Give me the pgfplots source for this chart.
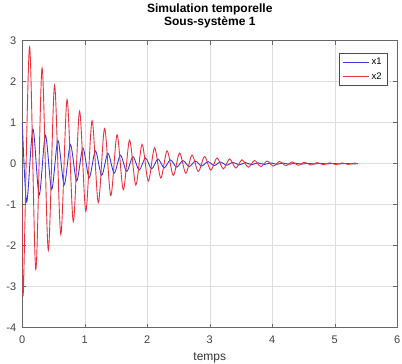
\documentclass[border=0pt]{standalone}
\usepackage{pgfplots}
\pgfplotsset{compat=1.18}
\usepackage{fontspec}
\setmainfont{Liberation Sans}
\definecolor{mred}{RGB}{232,50,60}
\definecolor{mblue}{RGB}{55,55,228}
\pgfplotstableread{
t x1
0 1
0.07 -0.932
0.17 0.844
0.27 -0.763
0.37 0.691
0.47 -0.625
0.57 0.566
0.67 -0.512
0.77 0.463
0.87 -0.419
0.97 0.379
1.07 -0.343
1.17 0.310
1.27 -0.281
1.37 0.254
1.47 -0.230
1.57 0.208
1.67 -0.188
1.77 0.170
1.87 -0.154
1.97 0.139
2.07 -0.126
2.17 0.114
2.27 -0.103
2.37 0.094
2.47 -0.085
2.57 0.077
2.67 -0.069
2.77 0.063
2.87 -0.057
2.97 0.051
3.07 -0.046
3.17 0.042
3.27 -0.038
3.37 0.034
3.47 -0.031
3.57 0.028
3.67 -0.026
3.77 0.023
3.87 -0.021
3.97 0.019
4.07 -0.017
4.17 0.016
4.27 -0.014
4.37 0.013
4.47 -0.011
4.57 0.010
4.67 -0.009
4.77 0.009
4.87 -0.008
4.97 0.007
5.07 -0.006
5.17 0.006
5.27 -0.005
5.37 0
}\xone
\pgfplotstableread{
t x2
0 -1
0.016 -3.149
0.116 2.850
0.216 -2.578
0.316 2.333
0.416 -2.111
0.516 1.910
0.616 -1.728
0.716 1.564
0.816 -1.415
0.916 1.280
1.016 -1.158
1.116 1.048
1.216 -0.949
1.316 0.858
1.416 -0.777
1.516 0.703
1.616 -0.636
1.716 0.575
1.816 -0.521
1.916 0.471
2.016 -0.426
2.116 0.386
2.216 -0.349
2.316 0.316
2.416 -0.286
2.516 0.259
2.616 -0.234
2.716 0.212
2.816 -0.191
2.916 0.173
3.016 -0.157
3.116 0.142
3.216 -0.128
3.316 0.116
3.416 -0.105
3.516 0.095
3.616 -0.086
3.716 0.078
3.816 -0.070
3.916 0.064
4.016 -0.058
4.116 0.052
4.216 -0.047
4.316 0.043
4.416 -0.039
4.516 0.035
4.616 -0.032
4.716 0.029
4.816 -0.026
4.916 0.023
5.016 -0.021
5.116 0.019
5.216 -0.017
5.316 0.016
5.37 0
}\xtwo
\begin{document}
\begin{tikzpicture}
\useasboundingbox (0,0) rectangle (402pt,364pt);
\begin{axis}[
  at={(22.3pt,36.3pt)}, anchor=south west,
  scale only axis, width=375pt, height=287pt,
  xmin=0, xmax=6, ymin=-4, ymax=3,
  xtick={0,1,2,3,4,5,6}, ytick={-4,-3,-2,-1,0,1,2,3},
  grid=major,
  major grid style={black!13, line width=0.5pt},
  axis line style={black!60, line width=0.6pt},
  tick style={black!60, line width=0.6pt},
  major tick length=4pt,
  tick align=inside,
  /pgf/number format/assume math mode=true,
  tick label style={font=\fontsize{11}{13}\selectfont, text=black!75},
  xticklabel style={anchor=base, yshift=-15.5pt},
  yticklabel style={anchor=east, xshift=-2.5pt},
  xlabel={temps},
  xlabel style={font=\fontsize{12}{14}\selectfont, text=black!80, at={(axis description cs:0.5,0)}, anchor=base, yshift=-33pt},
  title={Simulation temporelle\\Sous-système 1},
  title style={font=\bfseries\fontsize{12}{13.5}\selectfont, align=center, at={(axis description cs:0.5,1)}, anchor=south, yshift=3pt},
  legend style={at={(axis description cs:1,1)}, anchor=north east, xshift=-10pt, yshift=-12pt,
    draw=black!70, line width=0.5pt, fill=white, font=\fontsize{9.5}{11}\selectfont,
    inner xsep=3.5pt, inner ysep=3pt, row sep=2.5pt},
  legend cell align=left,
  legend image code/.code={\draw[#1] (0pt,0pt) -- (26pt,0pt);},
]
\addplot[mblue, line width=0.9pt, smooth, no markers] table[x=t, y=x1] {\xone};
\addlegendentry{x1}
\addplot[mred, line width=0.9pt, smooth, no markers] table[x=t, y=x2] {\xtwo};
\addlegendentry{x2}
\end{axis}
\end{tikzpicture}
\end{document}
